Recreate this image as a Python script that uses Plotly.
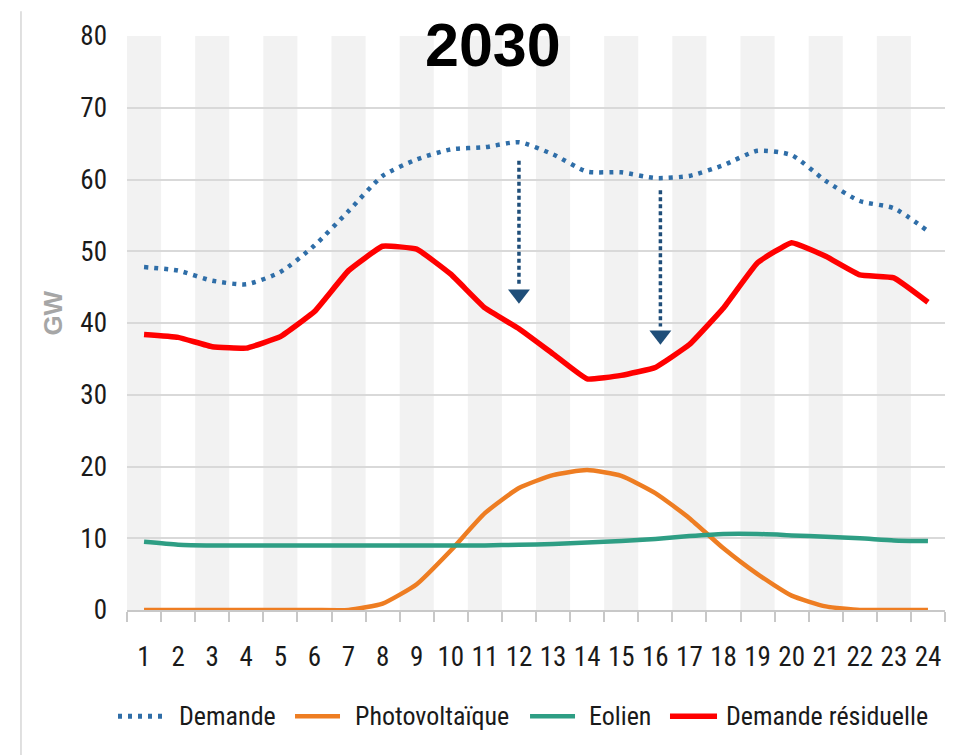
import plotly.graph_objects as go

hours = list(range(1, 25))
tick_labels = [str(h) for h in hours]

demande = [47.8, 47.3, 45.9, 45.4, 47.1, 50.8, 55.6, 60.5, 62.8, 64.2, 64.5, 65.2,
           63.5, 61.1, 61.0, 60.2, 60.5, 62.0, 64.0, 63.4, 59.8, 57.0, 56.0, 52.8]
photovoltaique = [0, 0, 0, 0, 0, 0, 0, 0.9, 3.6, 8.3, 13.5, 17.0,
                  18.8, 19.5, 18.7, 16.3, 12.8, 8.6, 5.0, 2.0, 0.5, 0, 0, 0]
eolien = [9.5, 9.1, 9.0, 9.0, 9.0, 9.0, 9.0, 9.0, 9.0, 9.0, 9.0, 9.1,
          9.2, 9.4, 9.6, 9.9, 10.3, 10.6, 10.6, 10.4, 10.2, 10.0, 9.7, 9.6]
residuelle = [38.4, 38.0, 36.7, 36.5, 38.1, 41.6, 47.3, 50.7, 50.3, 46.8, 42.1, 39.2,
              35.7, 32.2, 32.7, 33.8, 37.0, 42.1, 48.4, 51.2, 49.3, 46.7, 46.3, 42.9]

series_names = ["Demande", "Photovoltaïque", "Eolien", "Demande résiduelle"]
series_colors = ["#2F6EA8", "#EE7D22", "#2E9E84", "#FF0000"]

arrow_x = [12, 16.15]
arrow_y_start = [62.6, 58.5]
arrow_y_head = [44.0, 38.3]

FONT = "Liberation Sans Narrow, Roboto Condensed, Open Sans, sans-serif"

fig = go.Figure()

styles = [
    dict(width=4.5, dash="4px,6px", shape="spline", smoothing=0.6),
    dict(width=4.5, shape="spline", smoothing=0.5),
    dict(width=4.5, shape="spline", smoothing=0.6),
    dict(width=5.5, shape="spline", smoothing=0.3),
]
for name, vals, col, st in zip(series_names, [demande, photovoltaique, eolien, residuelle], series_colors, styles):
    fig.add_trace(go.Scatter(x=hours, y=vals, name=name, mode="lines", showlegend=False,
                             line=dict(color=col, **st)))

# arrowheads
fig.add_trace(go.Scatter(x=arrow_x, y=arrow_y_head, mode="markers", showlegend=False,
                         marker=dict(symbol="triangle-down", size=19, color="#1F4E79"),
                         hoverinfo="skip"))

shapes = []
for h in hours:
    if h % 2 == 1:
        shapes.append(dict(type="rect", xref="x", yref="y", x0=h - 0.5, x1=h + 0.5, y0=0, y1=80,
                           fillcolor="#F2F2F2", line=dict(width=0), layer="below"))
for ax, ys, yh in zip(arrow_x, arrow_y_start, arrow_y_head):
    shapes.append(dict(type="line", xref="x", yref="y", x0=ax, x1=ax, y0=ys, y1=yh + 1.2,
                       line=dict(color="#1F4E79", width=3.5, dash="4px,3px")))
shapes.append(dict(type="line", xref="paper", yref="paper", x0=-0.1296, x1=-0.1296, y0=-0.26, y1=1.043,
                   line=dict(color="#D6D6D6", width=1.5)))

# custom legend (long line symbols like the reference)
legend_line_x = [(-0.011, 0.044), (0.2054, 0.2604), (0.4927, 0.5477), (0.6638, 0.7213)]
legend_text_x = [0.0611, 0.2763, 0.5623, 0.7298]
legend_y = -0.1851
annotations = []
for name, col, st, (x0, x1), tx in zip(series_names, series_colors, styles, legend_line_x, legend_text_x):
    shapes.append(dict(type="line", xref="paper", yref="paper", x0=x0, x1=x1, y0=legend_y, y1=legend_y,
                       line=dict(color=col, width=st["width"] + (0.5 if "dash" in st else 0),
                                 dash=st.get("dash", "solid"))))
    annotations.append(dict(text=name, xref="paper", yref="paper", x=tx, y=legend_y,
                            xanchor="left", yanchor="middle", showarrow=False,
                            font=dict(family=FONT, size=26, color="#1a1a1a")))

annotations += [
    dict(text="<b>2030</b>", xref="paper", yref="paper", x=0.447, y=0.984,
         xanchor="center", yanchor="middle",
         showarrow=False, font=dict(family="Liberation Sans, Arial", size=61, color="black")),
    dict(text="<b>GW</b>", xref="paper", yref="paper", x=-0.09, y=0.517, textangle=-90,
         xanchor="center", yanchor="middle",
         showarrow=False, font=dict(family="Liberation Sans, Arial", size=26, color="#A6A6A6")),
]

fig.update_layout(
    width=962, height=755,
    margin=dict(l=119, r=25, t=24, b=153),
    paper_bgcolor="white", plot_bgcolor="white",
    shapes=shapes,
    annotations=annotations,
    showlegend=False,
)

fig.update_xaxes(range=[0.5, 24.5], tickvals=hours, ticktext=tick_labels, showgrid=False,
                 showline=True, linecolor="#C8C8C8", linewidth=1.5, ticks="", zeroline=False,
                 ticklabelstandoff=22,
                 tickfont=dict(family=FONT, size=27, color="#1a1a1a"),
                 minor=dict(tick0=0.5, dtick=1, ticks="outside", ticklen=10, tickcolor="#C8C8C8", tickwidth=1.5, showgrid=False))
fig.update_yaxes(range=[0, 80], tickvals=[0, 10, 20, 30, 40, 50, 60, 70, 80], showgrid=True,
                 gridcolor="#D9D9D9", gridwidth=1.5, zeroline=False, showline=False, ticks="",
                 ticklabelstandoff=19,
                 tickfont=dict(family=FONT, size=27, color="#1a1a1a"))

fig.write_html("out.html")
